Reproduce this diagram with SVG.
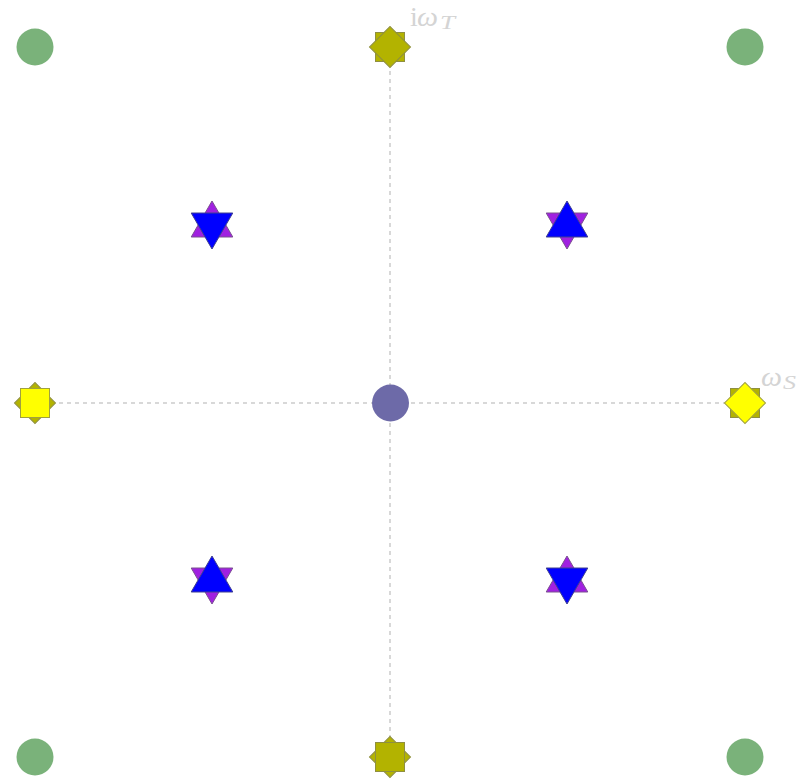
<svg xmlns="http://www.w3.org/2000/svg" width="797" height="781" viewBox="0 0 797 781">
<style>
.axis{stroke:#cccccc;stroke-width:1.5;stroke-dasharray:4 4;fill:none}
.olive{fill:#b3b300;stroke:#8f8f40;stroke-width:1}
.yellow{fill:#ffff00;stroke:#a0a040;stroke-width:1}
.purple{fill:#a020e0;stroke:#7a5090;stroke-width:1}
.blue{fill:#0000ff;stroke:#404090;stroke-width:1}
.green{fill:#7ab27a}
.center{fill:#6d6aa8}
.lbl{font-family:"Liberation Serif","DejaVu Serif",serif;fill:#d4d4d4;font-size:28px}
.sub{font-family:"Liberation Serif","DejaVu Serif",serif;fill:#d4d4d4;font-size:18px;font-style:italic}
</style>
<defs>
<rect id="sq" x="-14.5" y="-14.5" width="29" height="29"/>
<rect id="dm" x="-14.5" y="-14.5" width="29" height="29" transform="rotate(45)"/>
<polygon id="up" points="0,-24 20.8,12 -20.8,12"/>
<polygon id="dn" points="0,24 20.8,-12 -20.8,-12"/>
</defs>
<g id="connectors">
<line class="axis" x1="35" y1="403" x2="745" y2="403"/>
<line class="axis" x1="390" y1="47" x2="390" y2="757"/>
</g>
<g id="corner-tl"><circle class="green" cx="35" cy="47" r="18.5"/></g>
<g id="corner-tr"><circle class="green" cx="745" cy="47" r="18.5"/></g>
<g id="corner-bl"><circle class="green" cx="35" cy="757" r="18.5"/></g>
<g id="corner-br"><circle class="green" cx="745" cy="757" r="18.5"/></g>
<g id="center"><circle class="center" cx="390.5" cy="403" r="18.5"/></g>
<g id="top" transform="translate(390,47)"><use href="#sq" class="olive"/><use href="#dm" class="olive"/></g>
<g id="bottom" transform="translate(390,757)"><use href="#dm" class="olive"/><use href="#sq" class="olive"/></g>
<g id="left" transform="translate(35,403)"><use href="#dm" class="olive"/><use href="#sq" class="yellow"/></g>
<g id="right" transform="translate(745,403)"><use href="#sq" class="olive"/><use href="#dm" class="yellow"/></g>
<g id="star-tl" transform="translate(212,225)"><use href="#up" class="purple"/><use href="#dn" class="blue"/></g>
<g id="star-tr" transform="translate(567,225)"><use href="#dn" class="purple"/><use href="#up" class="blue"/></g>
<g id="star-bl" transform="translate(212,580)"><use href="#dn" class="purple"/><use href="#up" class="blue"/></g>
<g id="star-br" transform="translate(567,580)"><use href="#up" class="purple"/><use href="#dn" class="blue"/></g>
<g id="labels">
<text class="lbl" x="410" y="26">i</text>
<text class="lbl" x="417" y="26" font-style="italic" textLength="21" lengthAdjust="spacingAndGlyphs">ω</text>
<text class="sub" x="440" y="29" textLength="15" lengthAdjust="spacingAndGlyphs">T</text>
<text class="lbl" x="761" y="386" font-style="italic" textLength="21" lengthAdjust="spacingAndGlyphs">ω</text>
<text class="sub" x="783" y="389" textLength="13" lengthAdjust="spacingAndGlyphs">S</text>
</g>
</svg>
